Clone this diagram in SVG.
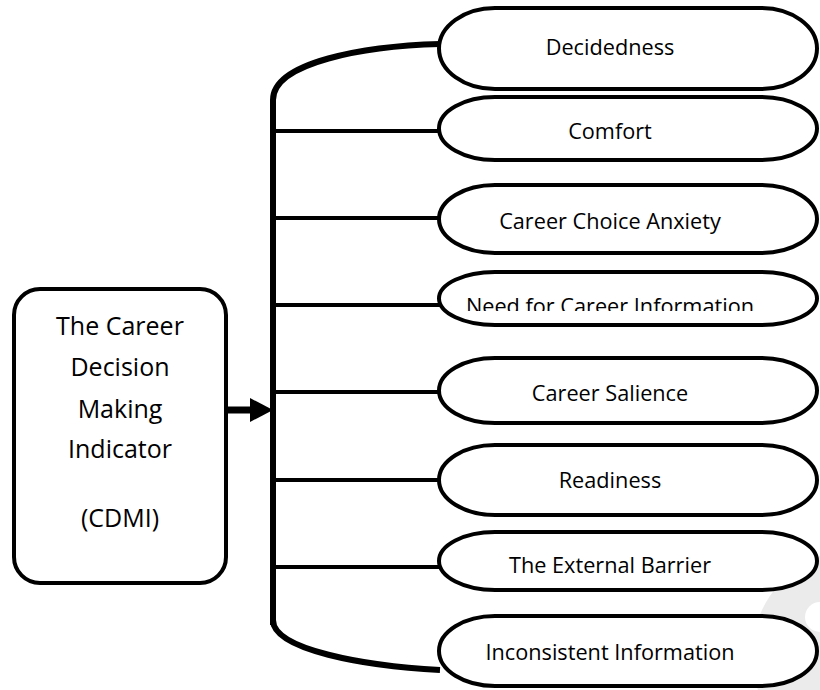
<svg xmlns="http://www.w3.org/2000/svg" width="820" height="690" viewBox="0 0 820 690">
  <defs>
    <style>
      .box { fill: #ffffff; stroke: #000000; stroke-width: 4; }
      .cap { fill: #ffffff; stroke: #000000; stroke-width: 4; }
      .lbl { font-family: "Open Sans", "Noto Sans", sans-serif; font-size: 21.7px; fill: #000000; text-anchor: middle; }
      .big { font-family: "Open Sans", "Noto Sans", sans-serif; font-size: 25px; fill: #000000; text-anchor: middle; }
      .branch { stroke: #000000; stroke-width: 4; fill: none; }
      .trunk { stroke: #000000; stroke-width: 6; fill: none; }
    </style>
    <clipPath id="clip-need">
      <rect x="439" y="272" width="378" height="39"/>
    </clipPath>
  </defs>

  <rect width="820" height="690" fill="#ffffff"/>

  <!-- faint background mark, lower right -->
  <g id="mark">
    <circle cx="858" cy="655" r="106" fill="#ebebeb"/>
    <circle cx="820" cy="617" r="15" fill="#ffffff"/>
  </g>

  <!-- connectors -->
  <g id="connectors">
    <path class="trunk" d="M273,625 L273,100 C273,62 365,46 440,44"/>
    <path class="trunk" d="M273,620 C273,650 365,666 440,670"/>
    <line class="branch" x1="273" y1="131" x2="441" y2="131"/>
    <line class="branch" x1="273" y1="218" x2="441" y2="218"/>
    <line class="branch" x1="273" y1="305" x2="441" y2="305"/>
    <line class="branch" x1="273" y1="392" x2="441" y2="392"/>
    <line class="branch" x1="273" y1="480" x2="441" y2="480"/>
    <line class="branch" x1="273" y1="567" x2="441" y2="567"/>
    <line x1="226" y1="410" x2="254" y2="410" stroke="#000000" stroke-width="7"/>
    <polygon points="250,398 273,410 250,422" fill="#000000"/>
  </g>

  <g id="cdmi">
    <rect class="box" x="14" y="289" width="212" height="294" rx="26" ry="26"/>
    <text class="big" x="120" y="335">The Career</text>
    <text class="big" x="120" y="376">Decision</text>
    <text class="big" x="120" y="418">Making</text>
    <text class="big" x="120" y="458">Indicator</text>
    <text class="big" x="120" y="527">(CDMI)</text>
  </g>

  <g id="decidedness">
    <rect class="cap" x="439" y="8" width="378" height="81" rx="56" ry="40.5"/>
    <text class="lbl" x="610" y="55">Decidedness</text>
  </g>

  <g id="comfort">
    <rect class="cap" x="439" y="97" width="378" height="63" rx="56" ry="31.5"/>
    <text class="lbl" x="610" y="139">Comfort</text>
  </g>

  <g id="anxiety">
    <rect class="cap" x="439" y="185" width="378" height="68" rx="56" ry="34"/>
    <text class="lbl" x="610" y="229">Career Choice Anxiety</text>
  </g>

  <g id="need-info">
    <rect class="cap" x="439" y="272" width="378" height="53" rx="56" ry="26.5"/>
    <text class="lbl" x="610" y="314" clip-path="url(#clip-need)">Need for Career Information</text>
  </g>

  <g id="salience">
    <rect class="cap" x="439" y="358" width="378" height="65" rx="56" ry="32.5"/>
    <text class="lbl" x="610" y="401">Career Salience</text>
  </g>

  <g id="readiness">
    <rect class="cap" x="439" y="445" width="378" height="70" rx="56" ry="35"/>
    <text class="lbl" x="610" y="488">Readiness</text>
  </g>

  <g id="external-barrier">
    <rect class="cap" x="439" y="532" width="378" height="58" rx="56" ry="29"/>
    <text class="lbl" x="610" y="573">The External Barrier</text>
  </g>

  <g id="inconsistent">
    <rect class="cap" x="439" y="616" width="378" height="70" rx="56" ry="35"/>
    <text class="lbl" x="610" y="660">Inconsistent Information</text>
  </g>
</svg>
